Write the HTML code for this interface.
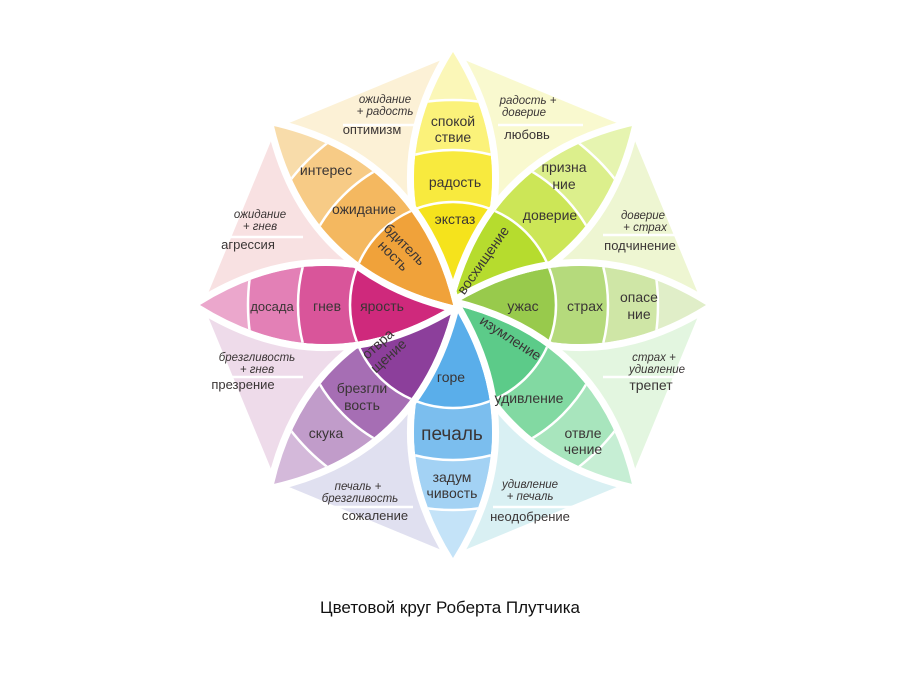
<!DOCTYPE html>
<html><head><meta charset="utf-8"><style>
html,body{margin:0;padding:0;background:#fff;width:900px;height:675px;overflow:hidden;}
svg{display:block;}
text{font-family:"Liberation Sans","DejaVu Sans",sans-serif;fill:#3a3535;text-anchor:middle;}
.s{font-size:11.5px;font-style:italic;}
.m{font-size:13px;}
.b{font-size:14px;}
</style></head><body>
<svg width="900" height="675" viewBox="0 0 900 675" xmlns="http://www.w3.org/2000/svg">
<defs>
<path id="pet" d="M0,0 Q78,-128 0,-253 Q-78,-128 0,0Z"/>
<clipPath id="pc"><use href="#pet"/></clipPath>
</defs>
<g transform="translate(453,305)">
 <g stroke="#fff" stroke-width="6" stroke-linejoin="round">
  <polygon points="0,0 0,-253 179,-179" fill="#f9f9cf"/>
  <polygon points="0,0 179,-179 253,0" fill="#eef6d2"/>
  <polygon points="0,0 253,0 179,179" fill="#e3f6e0"/>
  <polygon points="0,0 179,179 0,253" fill="#d9f0f3"/>
  <polygon points="0,0 0,253 -179,179" fill="#e0e0f0"/>
  <polygon points="0,0 -179,179 -253,0" fill="#eedbea"/>
  <polygon points="0,0 -253,0 -179,-179" fill="#f8e1e2"/>
  <polygon points="0,0 -179,-179 0,-253" fill="#fcf1d6"/>
 </g>
 <g stroke="#fff" stroke-width="2.5">
  <line x1="-110" y1="-180" x2="-30" y2="-180"/>
  <line x1="45" y1="-180" x2="130" y2="-180"/>
  <line x1="150" y1="-70" x2="230" y2="-70"/>
  <line x1="150" y1="72" x2="240" y2="72"/>
  <line x1="40" y1="202" x2="130" y2="202"/>
  <line x1="-130" y1="202" x2="-40" y2="202"/>
  <line x1="-245" y1="72" x2="-150" y2="72"/>
  <line x1="-245" y1="-68" x2="-150" y2="-68"/>
 </g>
</g>
<g transform="translate(453,305)">
 <g transform="rotate(0)"><use href="#pet" fill="none" stroke="#fff" stroke-width="14"/><g clip-path="url(#pc)" stroke="#fff" stroke-width="2.5"><circle r="300" fill="#fbf7b8"/><circle r="205" fill="#fbf27a"/><circle r="155" fill="#f8ea3e"/><circle r="103" fill="#f5e31c"/></g></g>
 <g transform="rotate(45)"><use href="#pet" fill="none" stroke="#fff" stroke-width="14"/><g clip-path="url(#pc)" stroke="#fff" stroke-width="2.5"><circle r="300" fill="#e6f4b0"/><circle r="205" fill="#dcef8c"/><circle r="155" fill="#cce657"/><circle r="103" fill="#b6dc2e"/></g></g>
 <g transform="rotate(90)"><use href="#pet" fill="none" stroke="#fff" stroke-width="14"/><g clip-path="url(#pc)" stroke="#fff" stroke-width="2.5"><circle r="300" fill="#e0eec8"/><circle r="205" fill="#cfe6a6"/><circle r="155" fill="#b5da7c"/><circle r="103" fill="#98ca4c"/></g></g>
 <g transform="rotate(135)"><use href="#pet" fill="none" stroke="#fff" stroke-width="14"/><g clip-path="url(#pc)" stroke="#fff" stroke-width="2.5"><circle r="300" fill="#c6eed4"/><circle r="205" fill="#a8e5bd"/><circle r="155" fill="#82d9a2"/><circle r="103" fill="#5ccb89"/></g></g>
 <g transform="rotate(180)"><use href="#pet" fill="none" stroke="#fff" stroke-width="14"/><g clip-path="url(#pc)" stroke="#fff" stroke-width="2.5"><circle r="300" fill="#c4e3f8"/><circle r="205" fill="#a3d2f4"/><circle r="155" fill="#7bbeee"/><circle r="103" fill="#5aaeea"/></g></g>
 <g transform="rotate(225)"><use href="#pet" fill="none" stroke="#fff" stroke-width="14"/><g clip-path="url(#pc)" stroke="#fff" stroke-width="2.5"><circle r="300" fill="#d4b9da"/><circle r="205" fill="#c19cca"/><circle r="155" fill="#a66eb4"/><circle r="103" fill="#8c3f9b"/></g></g>
 <g transform="rotate(270)"><use href="#pet" fill="none" stroke="#fff" stroke-width="14"/><g clip-path="url(#pc)" stroke="#fff" stroke-width="2.5"><circle r="300" fill="#eba7cc"/><circle r="205" fill="#e380b6"/><circle r="155" fill="#d9559a"/><circle r="103" fill="#cf297c"/></g></g>
 <g transform="rotate(315)"><use href="#pet" fill="none" stroke="#fff" stroke-width="14"/><g clip-path="url(#pc)" stroke="#fff" stroke-width="2.5"><circle r="300" fill="#f8dcaa"/><circle r="205" fill="#f7cb86"/><circle r="155" fill="#f4b860"/><circle r="103" fill="#f0a23a"/></g></g>
</g>
<text class="b" x="453" y="126">спокой</text><text class="b" x="453" y="142">ствие</text>
<text class="b" x="455" y="187">радость</text>
<text class="b" x="455" y="224">экстаз</text>
<text class="b" x="564" y="172">призна</text><text class="b" x="564" y="189">ние</text>
<text class="b" x="550" y="220">доверие</text>
<text class="b" transform="translate(487,263) rotate(-55)">восхищение</text>
<text class="b" x="639" y="302">опасе</text><text class="b" x="639" y="319">ние</text>
<text class="b" x="585" y="311">страх</text>
<text class="b" x="523" y="311">ужас</text>
<text class="b" transform="translate(508,342) rotate(33)">изумление</text>
<text class="b" x="529" y="403">удивление</text>
<text class="b" x="583" y="438">отвле</text><text class="b" x="583" y="454">чение</text>
<text class="b" x="451" y="382">горе</text>
<text x="452" y="440" style="font-size:19px">печаль</text>
<text class="b" x="452" y="482">задум</text><text class="b" x="452" y="498">чивость</text>
<text class="b" transform="translate(385,352) rotate(-42)"><tspan x="0" y="-6">отвра</tspan><tspan x="0" y="10">щение</tspan></text>
<text class="b" x="362" y="393">брезгли</text><text class="b" x="362" y="410">вость</text>
<text class="b" x="326" y="438">скука</text>
<text class="b" x="382" y="311">ярость</text>
<text class="b" x="327" y="311">гнев</text>
<text class="m" x="272" y="311">досада</text>
<text class="b" transform="translate(397,252) rotate(45)"><tspan x="0" y="-6">бдитель</tspan><tspan x="0" y="10">ность</tspan></text>
<text class="b" x="364" y="214">ожидание</text>
<text class="b" x="326" y="175">интерес</text>
<text class="s" x="385" y="103">ожидание</text><text class="s" x="385" y="115">+ радость</text><text class="m" x="372" y="134">оптимизм</text>
<text class="s" x="528" y="104">радость +</text><text class="s" x="524" y="116">доверие</text><text class="m" x="527" y="139">любовь</text>
<text class="s" x="643" y="219">доверие</text><text class="s" x="645" y="231">+ страх</text><text class="m" x="640" y="250">подчинение</text>
<text class="s" x="654" y="361">страх +</text><text class="s" x="657" y="373">удивление</text><text class="b" x="651" y="390">трепет</text>
<text class="s" x="530" y="488">удивление</text><text class="s" x="530" y="500">+ печаль</text><text class="m" x="530" y="521">неодобрение</text>
<text class="s" x="358" y="490">печаль +</text><text class="s" x="360" y="502">брезгливость</text><text class="m" x="375" y="520">сожаление</text>
<text class="s" x="257" y="361">брезгливость</text><text class="s" x="257" y="373">+ гнев</text><text class="m" x="243" y="389">презрение</text>
<text class="s" x="260" y="218">ожидание</text><text class="s" x="260" y="230">+ гнев</text><text class="m" x="248" y="249">агрессия</text>
<text x="450" y="613" style="font-size:17px;fill:#111">Цветовой круг Роберта Плутчика</text>
</svg>
</body></html>
